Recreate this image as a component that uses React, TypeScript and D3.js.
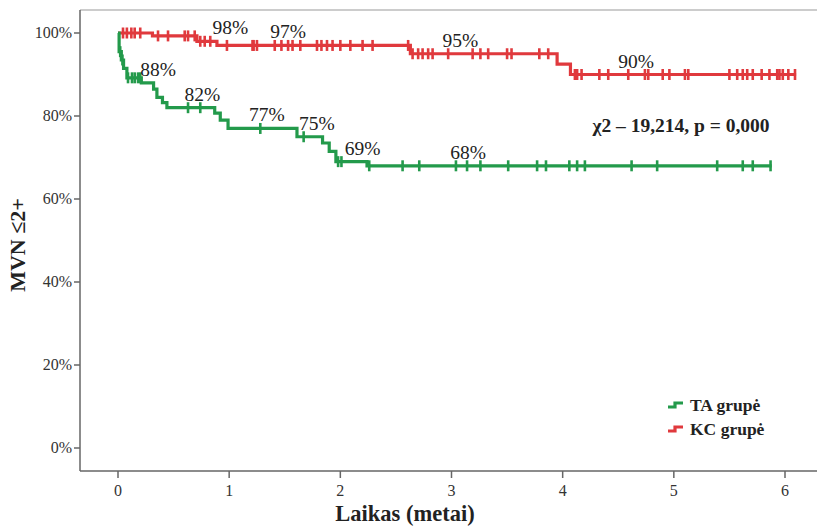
import React from "react";
import * as d3 from "d3";

// Kaplan–Meier step data: [time in years, survival proportion]
const taSteps: [number, number][] = [
  [0, 1], [0.01, 0.955], [0.03, 0.935], [0.05, 0.915], [0.08, 0.892],
  [0.21, 0.88], [0.32, 0.865], [0.35, 0.845], [0.40, 0.832], [0.44, 0.82],
  [0.87, 0.807], [0.92, 0.79], [0.99, 0.77], [1.61, 0.75], [1.84, 0.735],
  [1.90, 0.715], [1.96, 0.69], [2.24, 0.68],
];
const taEnd = 5.88;
const taCensored = [
  0.02, 0.04, 0.09, 0.126, 0.15, 0.18, 0.2, 0.63, 0.74, 1.28, 1.67, 1.98, 2.01,
  2.26, 2.56, 2.71, 3.04, 3.14, 3.26, 3.51, 3.77, 3.85, 4.06, 4.13, 4.2, 4.62,
  4.85, 5.39, 5.62, 5.71, 5.87,
];

const kcSteps: [number, number][] = [
  [0, 1], [0.31, 0.993], [0.71, 0.98], [0.89, 0.97], [2.63, 0.95],
  [3.95, 0.925], [4.07, 0.9],
];
const kcEnd = 6.1;
const kcCensored = [
  0.045, 0.08, 0.12, 0.15, 0.2, 0.36, 0.45, 0.6, 0.63, 0.69, 0.74, 0.78, 0.83,
  0.98, 1.21, 1.22, 1.25, 1.41, 1.47, 1.53, 1.57, 1.64, 1.79, 1.83, 1.88, 1.93,
  2.0, 2.09, 2.2, 2.29, 2.61, 2.65, 2.7, 2.74, 2.79, 2.83, 2.97, 3.19, 3.26,
  3.33, 3.5, 3.54, 3.79, 3.87, 4.11, 4.13, 4.17, 4.33, 4.41, 4.59, 4.74, 4.77,
  4.9, 4.96, 5.1, 5.13, 5.5, 5.57, 5.62, 5.66, 5.71, 5.79, 5.86, 5.93, 5.95,
  5.98, 6.03, 6.09,
];

// Survival annotations: [time, value, label]
const taLabels: [number, number, string][] = [
  [0.36, 0.88, "88%"], [0.76, 0.82, "82%"], [1.34, 0.77, "77%"],
  [1.79, 0.75, "75%"], [2.2, 0.69, "69%"], [3.15, 0.68, "68%"],
];
const kcLabels: [number, number, string][] = [
  [1.01, 0.98, "98%"], [1.53, 0.97, "97%"], [3.08, 0.95, "95%"], [4.66, 0.9, "90%"],
];

const xTicks = [0, 1, 2, 3, 4, 5, 6];
const yTicks = [0, 0.2, 0.4, 0.6, 0.8, 1];

const GREEN = "#239a4b";
const RED = "#e0393d";
const AXIS = "#666";
const SERIF = "'Liberation Serif', 'Times New Roman', serif";

const W = 817;
const H = 527;

const x = d3.scaleLinear().domain([0, 6]).range([118, 785]);
const y = d3.scaleLinear().domain([0, 1]).range([448, 33]);

function survAt(steps: [number, number][], t: number): number {
  let v = steps[0][1];
  for (const [st, sv] of steps) if (st <= t) v = sv;
  return v;
}

const line = d3
  .line<[number, number]>()
  .x((d) => x(d[0]))
  .y((d) => y(d[1]))
  .curve(d3.curveStepAfter);

function Curve({ steps, end, censored, color }: {
  steps: [number, number][]; end: number; censored: number[]; color: string;
}) {
  const pts: [number, number][] = [...steps, [end, steps[steps.length - 1][1]]];
  return (
    <g>
      <path d={line(pts) ?? ""} fill="none" stroke={color} strokeWidth={3.2} />
      {censored.map((t, i) => {
        const cy = y(survAt(steps, t));
        return (
          <line key={i} x1={x(t)} x2={x(t)} y1={cy - 5.5} y2={cy + 5.5}
            stroke={color} strokeWidth={2.6} />
        );
      })}
    </g>
  );
}

function Labels({ items }: { items: [number, number, string][] }) {
  return (
    <g fontFamily={SERIF} fontSize={19.5} fill="#222" textAnchor="middle">
      {items.map(([t, v, s], i) => (
        <text key={i} x={x(t)} y={y(v) - 7}>{s}</text>
      ))}
    </g>
  );
}

function LegendIcon({ cx, cy, color }: { cx: number; cy: number; color: string }) {
  const d = `M${cx - 8},${cy + 2} H${cx - 1} V${cy - 2} H${cx + 7}`;
  return <path d={d} fill="none" stroke={color} strokeWidth={3.2} />;
}

export default function App() {
  const axisLeft = 80;
  const axisBottom = 471;
  return (
    <div style={{ position: "fixed", left: 0, top: 0, background: "#fff" }}>
      <svg width={W} height={H} style={{ display: "block" }}>
        <rect width={W} height={H} fill="#fff" />
        {/* frame */}
        <line x1={axisLeft} x2={W} y1={10} y2={10} stroke="#999" strokeWidth={1} />
        <line x1={axisLeft} x2={axisLeft} y1={10} y2={axisBottom} stroke={AXIS} strokeWidth={1.5} />
        <line x1={axisLeft} x2={W} y1={axisBottom} y2={axisBottom} stroke={AXIS} strokeWidth={1.5} />

        {/* y axis */}
        <g fontFamily={SERIF} fontSize={16} fill="#333">
          {yTicks.map((v) => (
            <g key={v}>
              <line x1={axisLeft - 6} x2={axisLeft} y1={y(v)} y2={y(v)} stroke={AXIS} strokeWidth={1.5} />
              <text x={axisLeft - 8} y={y(v)} dy="0.33em" textAnchor="end">
                {d3.format(".0%")(v)}
              </text>
            </g>
          ))}
        </g>

        {/* x axis */}
        <g fontFamily={SERIF} fontSize={16} fill="#333">
          {xTicks.map((v) => (
            <g key={v}>
              <line x1={x(v)} x2={x(v)} y1={axisBottom} y2={axisBottom + 7} stroke={AXIS} strokeWidth={1.5} />
              <text x={x(v)} y={axisBottom + 25} textAnchor="middle">{v}</text>
            </g>
          ))}
        </g>

        <text x={405} y={521} textAnchor="middle" fontFamily={SERIF} fontWeight="bold"
          fontSize={22.5} fill="#222">Laikas (metai)</text>
        <text transform="translate(25,245) rotate(-90)" textAnchor="middle" fontFamily={SERIF}
          fontWeight="bold" fontSize={22} fill="#222">MVN ≤2+</text>

        <Curve steps={kcSteps} end={kcEnd} censored={kcCensored} color={RED} />
        <Curve steps={taSteps} end={taEnd} censored={taCensored} color={GREEN} />

        <Labels items={kcLabels} />
        <Labels items={taLabels} />

        <text x={681} y={132} textAnchor="middle" fontFamily={SERIF} fontWeight="bold"
          fontSize={19.5} fill="#222">χ2 – 19,214, p = 0,000</text>

        {/* legend */}
        <LegendIcon cx={676} cy={405} color={GREEN} />
        <LegendIcon cx={676} cy={429} color={RED} />
        <g fontFamily={SERIF} fontWeight="bold" fontSize={17.5} fill="#222">
          <text x={690} y={411}>TA grupė</text>
          <text x={690} y={435}>KC grupė</text>
        </g>
      </svg>
    </div>
  );
}
